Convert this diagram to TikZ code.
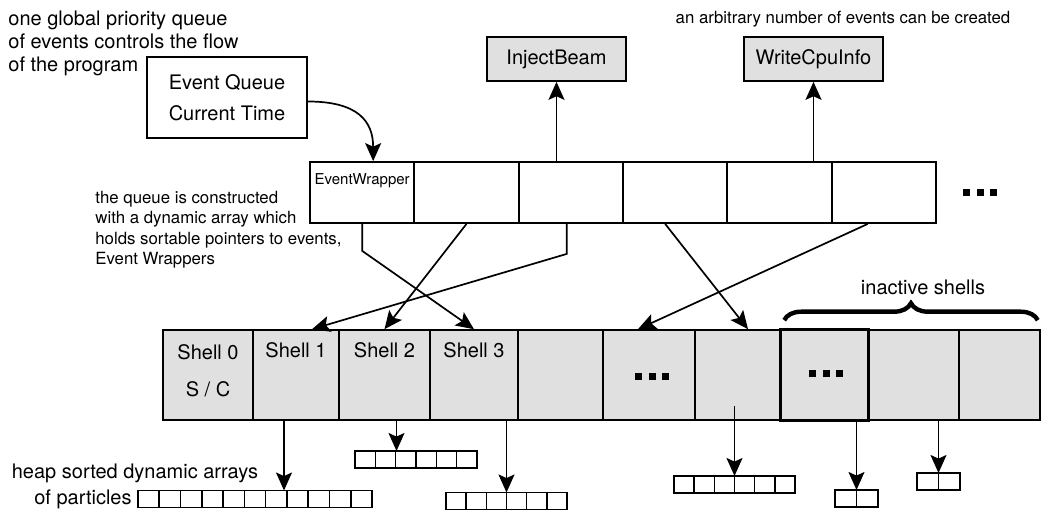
\documentclass[tikz,border=0pt]{standalone}
\usepackage{fontspec}
\setmainfont{TeX Gyre Heros}
\usetikzlibrary{positioning, calc, arrows.meta, decorations.pathreplacing}
\definecolor{cellgray}{RGB}{224,224,224}
\tikzstyle{evbox} = [rectangle, draw, line width=0.85pt, minimum width=80pt, minimum height=40.5pt, align=center, font=\fontsize{10}{15.5}\selectfont]
\tikzstyle{eventbox} = [rectangle, draw, line width=0.85pt, fill=cellgray, minimum width=69.5pt, minimum height=22pt, font=\fontsize{10}{12}\selectfont]
\tikzstyle{wrapcell} = [rectangle, draw, line width=0.9pt, minimum width=52.17pt, minimum height=30.5pt, inner sep=0]
\tikzstyle{shellcell} = [rectangle, draw, line width=0.8pt, fill=cellgray, minimum height=45pt, inner sep=0]
\tikzstyle{heapbox} = [rectangle, draw, line width=0.8pt, minimum height=8.5pt, inner sep=0, outer sep=0, anchor=west]
\tikzstyle{celltext} = [font=\fontsize{10}{12}\selectfont]
\tikzstyle{note} = [inner sep=0, align=left, font=\fontsize{8.4}{10.25}\selectfont]
\tikzstyle{bignote} = [inner sep=0, align=left, font=\fontsize{10}{11.5}\selectfont]
\tikzstyle{line} = [draw, line width=0.85pt, -{Stealth[length=9pt,width=8pt,inset=1.8pt]}]
\newcommand{\sqdots}{\rule{3.5pt}{3.5pt}\hspace{3.2pt}\rule{3.5pt}{3.5pt}\hspace{3.2pt}\rule{3.5pt}{3.5pt}}
\newcommand{\heaprow}[4]{%
  \node [heapbox, minimum width=#3*#4*0.5pt] (#1) at #2 {};
  \pgfmathtruncatemacro{\lastcell}{#3-1}
  \foreach \k in {1,...,\lastcell}
    \draw [line width=0.8pt] ($(#1.south west)+(\k*#4,0)$) -- ($(#1.north west)+(\k*#4,0)$);
}

\begin{document}
\begin{tikzpicture}[x=0.5pt, y=-0.5pt, node distance=1cm]
\useasboundingbox (0,0) rectangle (1041,512);

\node [bignote, anchor=north west] (prognote) at (8,10.5) {one global priority queue\\of events controls the flow\\of the program};
\node [evbox] (evq) at (227,97.5) {Event Queue\\Current Time};
\node [eventbox] (inject) at (556.5,59) {InjectBeam};
\node [eventbox] (cpu) at (813.5,59) {WriteCpuInfo};
\node [note] (arbnote) at (843,19) {an arbitrary number of events can be created};

\foreach \i in {1,...,6}
  \node [wrapcell] (e\i) at ({310+104.33*(\i-0.5)},192.5) {};
\node [font=\fontsize{7.5}{9}\selectfont, inner sep=0] (wraplabel) at ($(e1.north)+(0,20)$) {EventWrapper};
\node [inner sep=0, right=13pt of e6] (moreev) {\sqdots};
\node [note, anchor=north west] (queuenote) at (95,190.5) {the queue is constructed\\with a dynamic array which\\holds sortable pointers to events,\\Event Wrappers};

\foreach \l/\r [count=\i from 0] in {163/253, 253/339, 339/430, 430/518, 518/603, 603/695, 695/781, 781/868, 868/959, 959/1040}
  \node [shellcell, minimum width={(\r-\l)*0.5pt}] (s\i) at ({(\l+\r)/2},375) {};
\draw [line width=1.2pt] (s7.north west) rectangle (s7.south east);

\node [celltext] (lab0) at ($(s0.north)+(0,23)$) {Shell 0};
\node [celltext] (sc) at ($(s0.north)+(0,60)$) {S / C};
\foreach \i in {1,2,3}
  \node [celltext] (lab\i) at ($(s\i.north)+(0,21)$) {Shell \i};
\node [inner sep=0] (more1) at ($(s5.center)+(3,2)$) {\sqdots};
\node [inner sep=0] (more2) at ($(s7.center)+(1.5,-1)$) {\sqdots};

\draw [decorate, decoration={brace, amplitude=8.5pt}, line width=2.2pt] ($(s7.north west)+(4,-9)$) -- ($(s9.north east)+(-3,-9)$);
\node [bignote] (inactnote) at (923,287) {inactive shells};

\heaprow{h1}{(138,499)}{11}{21.27}
\heaprow{h2}{(355,459.5)}{6}{20.33}
\heaprow{h3}{(446,501)}{6}{20.17}
\heaprow{h4}{(674,484.5)}{6}{20.17}
\heaprow{h5}{(835,498.5)}{2}{21.5}
\heaprow{h6}{(917,481.5)}{2}{21.5}
\node [bignote, anchor=center] (heapnote) at (135,473) {heap sorted dynamic arrays};
\node [bignote, left=3pt of h1] (partnote) {of particles};

\path [line] ([yshift=-2pt]evq.east) .. controls +(50,0) and +(0,-40) .. ([xshift=5.5pt]e1.north);
\path [line] (e3.north -| inject.south) -- (inject.south);
\path [line] (e5.north -| cpu.south) -- (cpu.south);

\path [line] (e1.south) -- ++(0,27) -- (s3.north);
\path [line] (e2.south) -- (s2.north);
\path [line] ([xshift=-2pt]e3.south) -- ++(0,30) -- ([xshift=8pt]s1.north);
\path [line] ([xshift=-5pt]e4.south) -- ([xshift=5pt]s6.north);
\path [line] ([xshift=-8pt]e6.south) -- ([xshift=-5.5pt]s5.north);

\path [line] ([xshift=-6pt]s1.south) -- ([xshift=-6pt]s1.south |- h1.north);
\path [line] ([xshift=6pt]s2.south) -- ([xshift=6pt]s2.south |- h2.north);
\path [line] (h3.north |- s3.south) -- (h3.north);
\path [line] ($(h4.north |- s6.south)+(0,-15)$) -- (h4.north);
\path [line] (h5.north |- s7.south) -- (h5.north);
\path [line] (h6.north |- s8.south) -- (h6.north);

\end{tikzpicture}
\end{document}
